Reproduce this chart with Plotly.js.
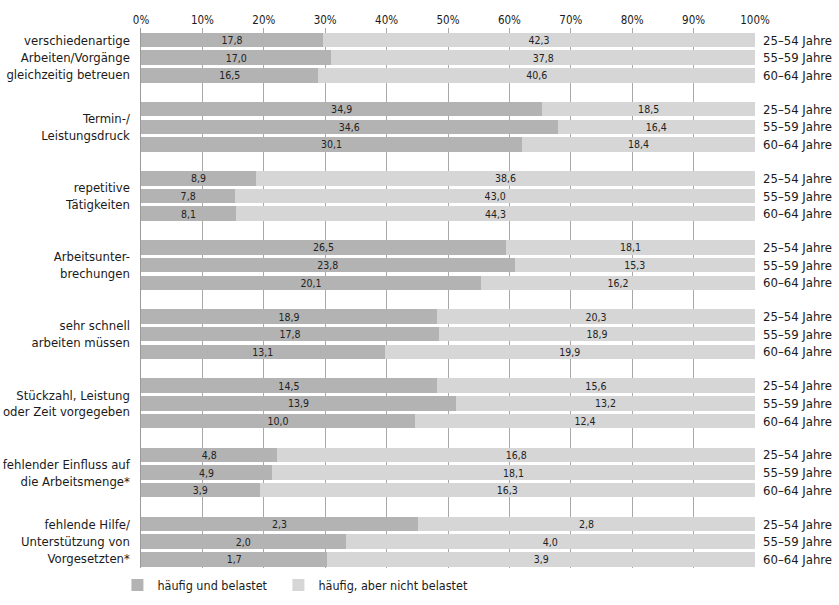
<!DOCTYPE html>
<html>
<head>
<meta charset="utf-8">
<script src="https://cdn.plot.ly/plotly-3.0.1.min.js"></script>
<style>html,body{margin:0;padding:0;background:#fff;}#chart{width:839px;height:605px;}</style>
</head>
<body>
<div id="chart"></div>
<script>
// ---- data ----
const groups = [
  'verschiedenartige<br>Arbeiten/Vorgänge<br>gleichzeitig betreuen',
  'Termin-/<br>Leistungsdruck',
  'repetitive<br>Tätigkeiten',
  'Arbeitsunter-<br>brechungen',
  'sehr schnell<br>arbeiten müssen',
  'Stückzahl, Leistung<br>oder Zeit vorgegeben',
  'fehlender Einfluss auf<br>die Arbeitsmenge*',
  'fehlende Hilfe/<br>Unterstützung von<br>Vorgesetzten*'
];
const ageGroups = ['25–54 Jahre', '55–59 Jahre', '60–64 Jahre'];
const belastet = [
  17.8, 17.0, 16.5,
  34.9, 34.6, 30.1,
  8.9, 7.8, 8.1,
  26.5, 23.8, 20.1,
  18.9, 17.8, 13.1,
  14.5, 13.9, 10.0,
  4.8, 4.9, 3.9,
  2.3, 2.0, 1.7
];
const nichtBelastet = [
  42.3, 37.8, 40.6,
  18.5, 16.4, 18.4,
  38.6, 43.0, 44.3,
  18.1, 15.3, 16.2,
  20.3, 18.9, 19.9,
  15.6, 13.2, 12.4,
  16.8, 18.1, 16.3,
  2.8, 4.0, 3.9
];
const xTickVals = [0, 10, 20, 30, 40, 50, 60, 70, 80, 90, 100];
const xTickText = xTickVals.map(v => v + '%');
const seriesNames = ['häufig und belastet', 'häufig, aber nicht belastet'];

// ---- layout helpers ----
const GROUP_STEP = 3.915;
const nAge = ageGroups.length;
const pos = belastet.map((_, k) => Math.floor(k / nAge) * GROUP_STEP + (k % nAge));
const groupCenters = groups.map((_, g) => g * GROUP_STEP + (nAge - 1) / 2);
const rightLabels = pos.map((_, k) => ageGroups[k % nAge]);
const fmt = v => v.toFixed(1).replace('.', ',');
const FONT = "'Liberation Sans Narrow', 'DejaVu Sans Condensed', 'Roboto Condensed', 'Arial Narrow', sans-serif";
const yRange = [pos[pos.length - 1] + 0.49, -0.68];

const barCommon = {
  type: 'bar', orientation: 'h', y: pos, width: 0.82,
  textposition: 'inside', insidetextanchor: 'middle', constraintext: 'none',
  textangle: 0,
  textfont: {family: FONT, size: 10.5, color: '#222'},
  hoverinfo: 'skip'
};

const traces = [
  Object.assign({}, barCommon, {
    name: seriesNames[0], x: belastet, text: belastet.map(fmt),
    marker: {color: '#b3b3b3', line: {width: 0}}, legend: 'legend'
  }),
  Object.assign({}, barCommon, {
    name: seriesNames[1], x: nichtBelastet, text: nichtBelastet.map(fmt),
    marker: {color: '#d6d6d6', line: {width: 0}}, legend: 'legend2'
  }),
  {
    type: 'scatter', mode: 'markers', x: pos.map(() => 0), y: pos, yaxis: 'y2',
    marker: {opacity: 0, size: 1}, showlegend: false, hoverinfo: 'skip'
  }
];

const legendCommon = {
  orientation: 'h', xanchor: 'left', y: -0.032, yanchor: 'middle',
  font: {family: FONT, size: 12.5, color: '#1a1a1a'},
  itemwidth: 30, bgcolor: 'rgba(0,0,0,0)'
};

const layout = {
  width: 839, height: 605,
  margin: {l: 141, r: 84, t: 28, b: 37, autoexpand: false},
  paper_bgcolor: '#fff', plot_bgcolor: '#fff',
  font: {family: FONT, size: 13, color: '#1a1a1a'},
  barmode: 'stack', barnorm: 'percent',
  showlegend: true,
  xaxis: {
    side: 'top', range: [0, 100], tickvals: xTickVals, ticktext: xTickText,
    showgrid: true, gridcolor: '#a8a8a8', gridwidth: 1,
    zeroline: false, showline: false, ticks: '',
    ticklabelstandoff: 1,
    tickfont: {family: FONT, size: 11.5, color: '#1a1a1a'}, fixedrange: true
  },
  yaxis: {
    range: yRange, tickvals: groupCenters, ticktext: groups,
    showgrid: false, zeroline: false, showline: true, linecolor: '#9a9a9a', linewidth: 1.5,
    ticks: '', ticklabelstandoff: 7,
    tickfont: {family: FONT, size: 13, color: '#1a1a1a'}, fixedrange: true
  },
  yaxis2: {
    overlaying: 'y', side: 'right', range: yRange, tickvals: pos, ticktext: rightLabels,
    showgrid: false, zeroline: false, showline: false, ticks: '', ticklabelstandoff: 7,
    tickfont: {family: FONT, size: 13, color: '#1a1a1a'}, fixedrange: true
  },
  legend: Object.assign({}, legendCommon, {x: -0.0384}),
  legend2: Object.assign({}, legendCommon, {x: 0.2238})
};

Plotly.newPlot('chart', traces, layout, {displayModeBar: false, staticPlot: true});
</script>
</body>
</html>
